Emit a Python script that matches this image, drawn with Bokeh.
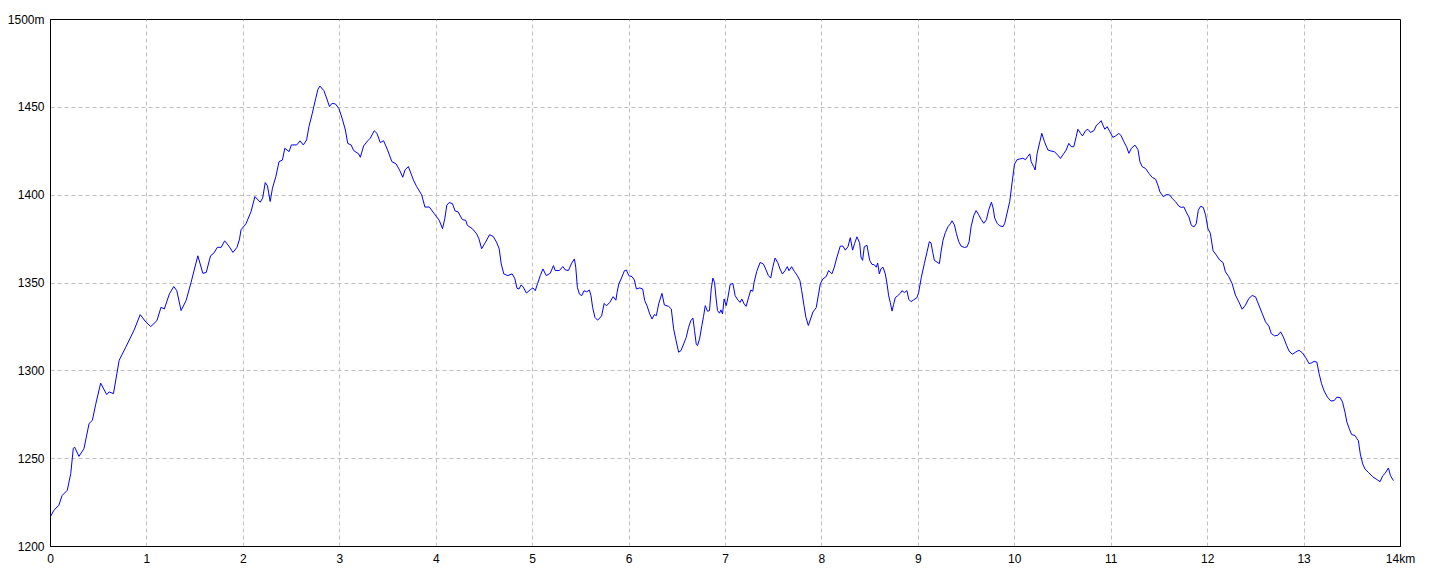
from bokeh.plotting import figure
from bokeh.models import Range1d, FixedTicker, ColumnDataSource
from bokeh.embed import file_html
from bokeh.resources import INLINE

distance_km = [
    0.0, 0.035, 0.087, 0.12, 0.174, 0.21, 0.236, 0.25, 0.295, 0.347, 0.40, 0.434, 0.469, 0.52, 0.583, 0.608,
    0.653, 0.712, 0.78, 0.868, 0.93, 0.99, 1.04, 1.104, 1.146, 1.18, 1.233, 1.278, 1.31, 1.354, 1.406, 1.458,
    1.528, 1.58, 1.615, 1.66, 1.694, 1.73, 1.77, 1.806, 1.85, 1.892, 1.934, 1.96,
    1.976, 2.027, 2.08, 2.12, 2.175, 2.2, 2.227, 2.25, 2.278, 2.302, 2.337, 2.37, 2.405, 2.43, 2.474, 2.498,
    2.553, 2.588, 2.622, 2.656, 2.68, 2.715, 2.75, 2.773, 2.794, 2.835, 2.87, 2.893, 2.92, 2.955, 2.99, 3.024,
    3.058, 3.082, 3.117, 3.144, 3.196, 3.213, 3.247, 3.289, 3.316, 3.357, 3.385, 3.42, 3.454, 3.495, 3.54,
    3.584, 3.619, 3.653, 3.677, 3.711, 3.763, 3.797, 3.849, 3.883,
    3.928, 3.979, 4.031, 4.065, 4.089, 4.11, 4.134, 4.168, 4.196, 4.227, 4.271, 4.306, 4.323, 4.375, 4.419,
    4.443, 4.471, 4.512, 4.553, 4.591, 4.625, 4.653, 4.674, 4.701, 4.742, 4.787, 4.814, 4.838, 4.859, 4.88,
    4.9, 4.935, 4.976, 5.003, 5.027, 5.052, 5.079, 5.107, 5.141, 5.182, 5.216, 5.234, 5.278, 5.313, 5.337,
    5.371, 5.405, 5.433, 5.447, 5.464, 5.485, 5.509, 5.533, 5.56, 5.588, 5.605, 5.622, 5.646, 5.674, 5.715,
    5.742, 5.766, 5.8, 5.835, 5.863, 5.876,
    5.893, 5.917, 5.952, 5.972, 5.997, 6.031, 6.055, 6.076, 6.11, 6.141, 6.162, 6.186, 6.214, 6.238, 6.262,
    6.283, 6.307, 6.341, 6.366, 6.41, 6.438, 6.462, 6.486, 6.514, 6.538, 6.566, 6.593, 6.617, 6.641, 6.662,
    6.679, 6.697, 6.71, 6.731, 6.755, 6.772, 6.79, 6.814, 6.834, 6.852, 6.869, 6.886, 6.903, 6.917, 6.938,
    6.952, 6.969, 6.986, 7.007, 7.024, 7.048, 7.076, 7.1, 7.128, 7.152, 7.169, 7.193, 7.214, 7.238, 7.262,
    7.283, 7.297, 7.324, 7.359, 7.393, 7.417, 7.445, 7.469, 7.49, 7.514, 7.541, 7.566, 7.59, 7.617, 7.641,
    7.659, 7.686, 7.714, 7.745, 7.772, 7.79, 7.814, 7.834, 7.859,
    7.907, 7.941, 7.965, 7.983, 8.01, 8.045, 8.069, 8.104, 8.128, 8.156, 8.19, 8.218, 8.242, 8.27, 8.294,
    8.318, 8.339, 8.363, 8.391, 8.405, 8.422, 8.439, 8.467, 8.495, 8.519, 8.543, 8.564, 8.578, 8.595, 8.612,
    8.633, 8.657, 8.675, 8.692, 8.709, 8.727, 8.744, 8.761, 8.785, 8.813, 8.83, 8.855, 8.882, 8.9, 8.924,
    8.952, 8.986, 9.003, 9.031, 9.062, 9.09, 9.114, 9.131, 9.152, 9.166, 9.194, 9.218, 9.235, 9.256, 9.28,
    9.308, 9.332, 9.349, 9.374, 9.394, 9.419, 9.443, 9.478, 9.505, 9.526, 9.547, 9.574, 9.599, 9.626, 9.65,
    9.678, 9.706, 9.73, 9.758, 9.775, 9.792, 9.817, 9.844, 9.879, 9.896, 9.92, 9.948, 9.972, 9.997, 10.024,
    10.052, 10.083, 10.111, 10.135, 10.156,
    10.17, 10.197, 10.211, 10.232, 10.26, 10.28, 10.308, 10.343, 10.377, 10.412, 10.446, 10.474, 10.509,
    10.533, 10.56, 10.585, 10.612, 10.637, 10.654, 10.682, 10.702, 10.734, 10.758, 10.785, 10.82, 10.848,
    10.872, 10.896, 10.914, 10.934, 10.958, 10.986, 11.017, 11.045, 11.08, 11.104, 11.131, 11.159, 11.183,
    11.208, 11.246, 11.277, 11.298, 11.322, 11.356, 11.391, 11.426, 11.46, 11.484, 11.505, 11.54, 11.574,
    11.609, 11.633, 11.668, 11.702, 11.727, 11.754, 11.782, 11.806, 11.83, 11.858, 11.882, 11.903, 11.927,
    11.955, 11.979,
    12.003, 12.028, 12.056, 12.09, 12.125, 12.16, 12.184, 12.219, 12.253, 12.288, 12.323, 12.358, 12.392,
    12.427, 12.462, 12.497, 12.531, 12.566, 12.6, 12.635, 12.66, 12.694, 12.729, 12.757, 12.785, 12.819,
    12.844, 12.878, 12.913, 12.948, 12.983, 13.017, 13.052, 13.08, 13.104, 13.132, 13.156, 13.181, 13.208,
    13.243, 13.278, 13.313, 13.34, 13.375, 13.399, 13.424, 13.444, 13.469, 13.493, 13.528, 13.549, 13.563,
    13.583, 13.608, 13.632, 13.667, 13.712, 13.747, 13.788, 13.816, 13.84, 13.875, 13.896, 13.927,
]

elevation_m = [
    1217, 1220.6, 1223.5, 1229, 1232, 1241.5, 1255.7, 1256.6, 1251.3, 1255.7, 1270, 1271.8, 1281, 1293, 1286.5, 1288,
    1287, 1306, 1313.4, 1323.3, 1332, 1327.7, 1325.2, 1328.6, 1336.2, 1335.2, 1343.8, 1348, 1345.6, 1334.3, 1340, 1350.4,
    1365.5, 1355.5, 1356, 1365.5, 1367, 1370.3, 1370.3, 1374, 1371, 1367.4, 1370.3, 1375,
    1380.3, 1383.7, 1390.7, 1399.2, 1396, 1398.3, 1407.2, 1405.3, 1396.4, 1404, 1410.6, 1419.1, 1420, 1426.7, 1424.8, 1428.6,
    1428.6, 1430.9, 1428.6, 1431.4, 1439, 1446.6, 1455, 1460.2, 1462.1, 1459.5, 1454.2, 1450.4, 1452.3, 1451.9, 1449.4, 1443.8,
    1437.1, 1429.5, 1428.6, 1425.4, 1423.5, 1421.6, 1428, 1430.9, 1432.4, 1436.7, 1435.2, 1429.9, 1431, 1425.8, 1419.1,
    1417.8, 1414.4, 1410.2, 1414.4, 1416.3, 1408.7, 1404.9, 1400.2, 1393.2,
    1393.3, 1389.5, 1385.7, 1380.9, 1386.6, 1394.3, 1395.8, 1395.2, 1391, 1390.5, 1386.1, 1385.7, 1382.8, 1380.9, 1378,
    1375.2, 1369.5, 1373.3, 1377.5, 1376.5, 1373.3, 1369.5, 1360.9, 1355.2, 1354.2, 1355.2, 1352.7, 1347, 1346.6, 1348.9,
    1347.9, 1344.3, 1346.2, 1347.2, 1345.6, 1349.8, 1354.2, 1358, 1354.2, 1355.5, 1359.9, 1357.1, 1357.1, 1359.4, 1357.5,
    1357.1, 1361.3, 1363.7, 1359, 1347.5, 1343.7, 1342.8, 1345.6, 1345, 1346, 1342.8, 1336.1, 1330.4, 1328.8, 1331.3,
    1338.4, 1337, 1339, 1342.2, 1340.2, 1344.7,
    1349.4, 1352.3, 1357, 1357.4, 1354.2, 1353.6, 1351.7, 1346.6, 1347.2, 1346.6, 1340, 1337.1, 1332.4, 1329.5, 1332,
    1331.4, 1338.1, 1344.1, 1337.5, 1336.7, 1335.2, 1323.9, 1317.6, 1310.6, 1311.5, 1315.3, 1319.1, 1324.8, 1328.6, 1330.1,
    1322.9, 1315, 1314.4, 1318.2, 1325.8, 1330.9, 1337.1, 1333.9, 1334.3, 1346.6, 1352.8, 1350.4, 1340.9, 1334.3, 1332.8,
    1334.7, 1332.4, 1340.9, 1337.1, 1341.5, 1349.1, 1349.8, 1342.8, 1340.3, 1339, 1340.9, 1338.1, 1336.7, 1341.5, 1346,
    1345.3, 1350.4, 1356.6, 1361.7, 1360.8, 1357.9, 1354.2, 1352.8, 1358.9, 1364.2, 1361.7, 1357.9, 1355.1, 1357, 1359.3,
    1357, 1359.3, 1356.6, 1354.2, 1351.3, 1345.6, 1337.1, 1330.5, 1325.8,
    1333.5, 1336, 1343.7, 1349.5, 1352.3, 1353.7, 1357.1, 1355.2, 1359, 1364.8, 1371, 1371, 1368.7, 1370.6, 1375.8,
    1368.7, 1372.5, 1376.3, 1372.9, 1364.8, 1362.9, 1370.6, 1371.5, 1362.9, 1360.6, 1360.4, 1359, 1361.4, 1355.2, 1358.1,
    1359, 1355.2, 1349.5, 1342.7, 1338.9, 1334, 1337.9, 1341.7, 1342.7, 1344.2, 1345.6, 1344.6, 1345.6, 1340.8, 1339.4,
    1340.4, 1341.7, 1344.6, 1353.3, 1361, 1367.7, 1373.5, 1372.9, 1366.7, 1362.9, 1361.9, 1361, 1367.7, 1374.4, 1378.7,
    1382.1, 1383.7, 1385.4, 1383.1, 1378.3, 1373.5, 1371, 1370.2, 1370.6, 1373.5, 1382.1, 1388.3, 1391.2, 1388.8, 1386.3,
    1384, 1386, 1391.7, 1396, 1392.7, 1386.9, 1384, 1382.5, 1382.1, 1384, 1389.8, 1396.5, 1407.1, 1417.7, 1420.2,
    1420.6, 1421, 1420.2, 1422.1, 1423.5,
    1419, 1416.2, 1414.3, 1423.8, 1430.4, 1435.2, 1430.4, 1425.7, 1425.1, 1424.7, 1422.8, 1420.9, 1423.8,
    1425.7, 1429.5, 1427.6, 1427.6, 1433.3, 1437.5, 1435.2, 1433.7, 1436.7, 1437.5, 1435.7, 1436.7, 1439.9,
    1440.9, 1442.4, 1439.9, 1437.5, 1439, 1436.1, 1432.9, 1433.7, 1435.2, 1433.7, 1430.4, 1427.6, 1423.8,
    1426.6, 1428.5, 1426, 1419, 1416.2, 1415.2, 1412.4, 1410.1, 1409.1, 1405.7, 1401.9, 1399.1, 1400.4,
    1400, 1398.1, 1396.2, 1393.7, 1393, 1393.3, 1389.9, 1387.6, 1382.9, 1381.9, 1383.8, 1391.4, 1393.7,
    1393, 1388.6,
    1381, 1378.3, 1368.4, 1365.9, 1363.1, 1361.6, 1356.4, 1353.6, 1349.8, 1343.1, 1339.3, 1335.1, 1337.4,
    1341.2, 1342.9, 1342.1, 1337.4, 1332.6, 1327.9, 1325.4, 1321.2, 1319.9, 1320.3, 1322.2, 1319.3, 1314.5,
    1311.3, 1309.4, 1310.7, 1311.7, 1310.2, 1307.5, 1304.1, 1304.6, 1305.4, 1305, 1298.4, 1292.7, 1288.5,
    1285, 1282.8, 1283.1, 1285, 1284.7, 1282.2, 1276.5, 1270.8, 1267, 1263.7, 1263.2, 1261.3, 1260.3,
    1252.7, 1247, 1244.1, 1242.2, 1239.7, 1238.4, 1236.9, 1240.3, 1241.6, 1244.7, 1240.3, 1237.5,
]

x_ticks = list(range(0, 15))
x_tick_labels = {i: str(i) for i in range(14)}
x_tick_labels[14] = "14km"

y_ticks = [1200, 1250, 1300, 1350, 1400, 1450, 1500]
y_tick_labels = {v: str(v) for v in y_ticks}
y_tick_labels[1500] = "1500m"

source = ColumnDataSource(data=dict(x=distance_km, y=elevation_m))

p = figure(
    frame_width=1350, frame_height=527,
    min_border_left=50, min_border_top=19, min_border_right=30, min_border_bottom=22,
    x_range=Range1d(0, 14), y_range=Range1d(1200, 1500),
    output_backend="svg", toolbar_location=None,
    background_fill_color="white", border_fill_color="white",
)

p.line("x", "y", source=source, line_color="#0000ff", line_width=1)

p.outline_line_color = "black"
p.outline_line_width = 1
p.outline_line_alpha = 1.0

for ax in (p.xaxis[0], p.yaxis[0]):
    ax.axis_line_color = "black"
    ax.major_tick_in = 0
    ax.major_tick_out = 0
    ax.minor_tick_in = 0
    ax.minor_tick_out = 0
    ax.major_label_text_font = "Liberation Sans"
    ax.major_label_text_font_size = "12px"
    ax.major_label_text_color = "black"

p.xaxis.ticker = FixedTicker(ticks=x_ticks)
p.xaxis.major_label_overrides = x_tick_labels
p.xaxis.major_label_standoff = 5
p.yaxis.ticker = FixedTicker(ticks=y_ticks)
p.yaxis.major_label_overrides = y_tick_labels
p.yaxis.major_label_standoff = 6

p.xgrid.ticker = FixedTicker(ticks=x_ticks[1:-1])
p.ygrid.ticker = FixedTicker(ticks=y_ticks[1:-1])
for g in (p.xgrid[0], p.ygrid[0]):
    g.grid_line_color = "#c0c0c0"
    g.grid_line_dash = "4 3"
    g.grid_line_width = 1

open("out.html", "w").write(file_html(p, INLINE))
